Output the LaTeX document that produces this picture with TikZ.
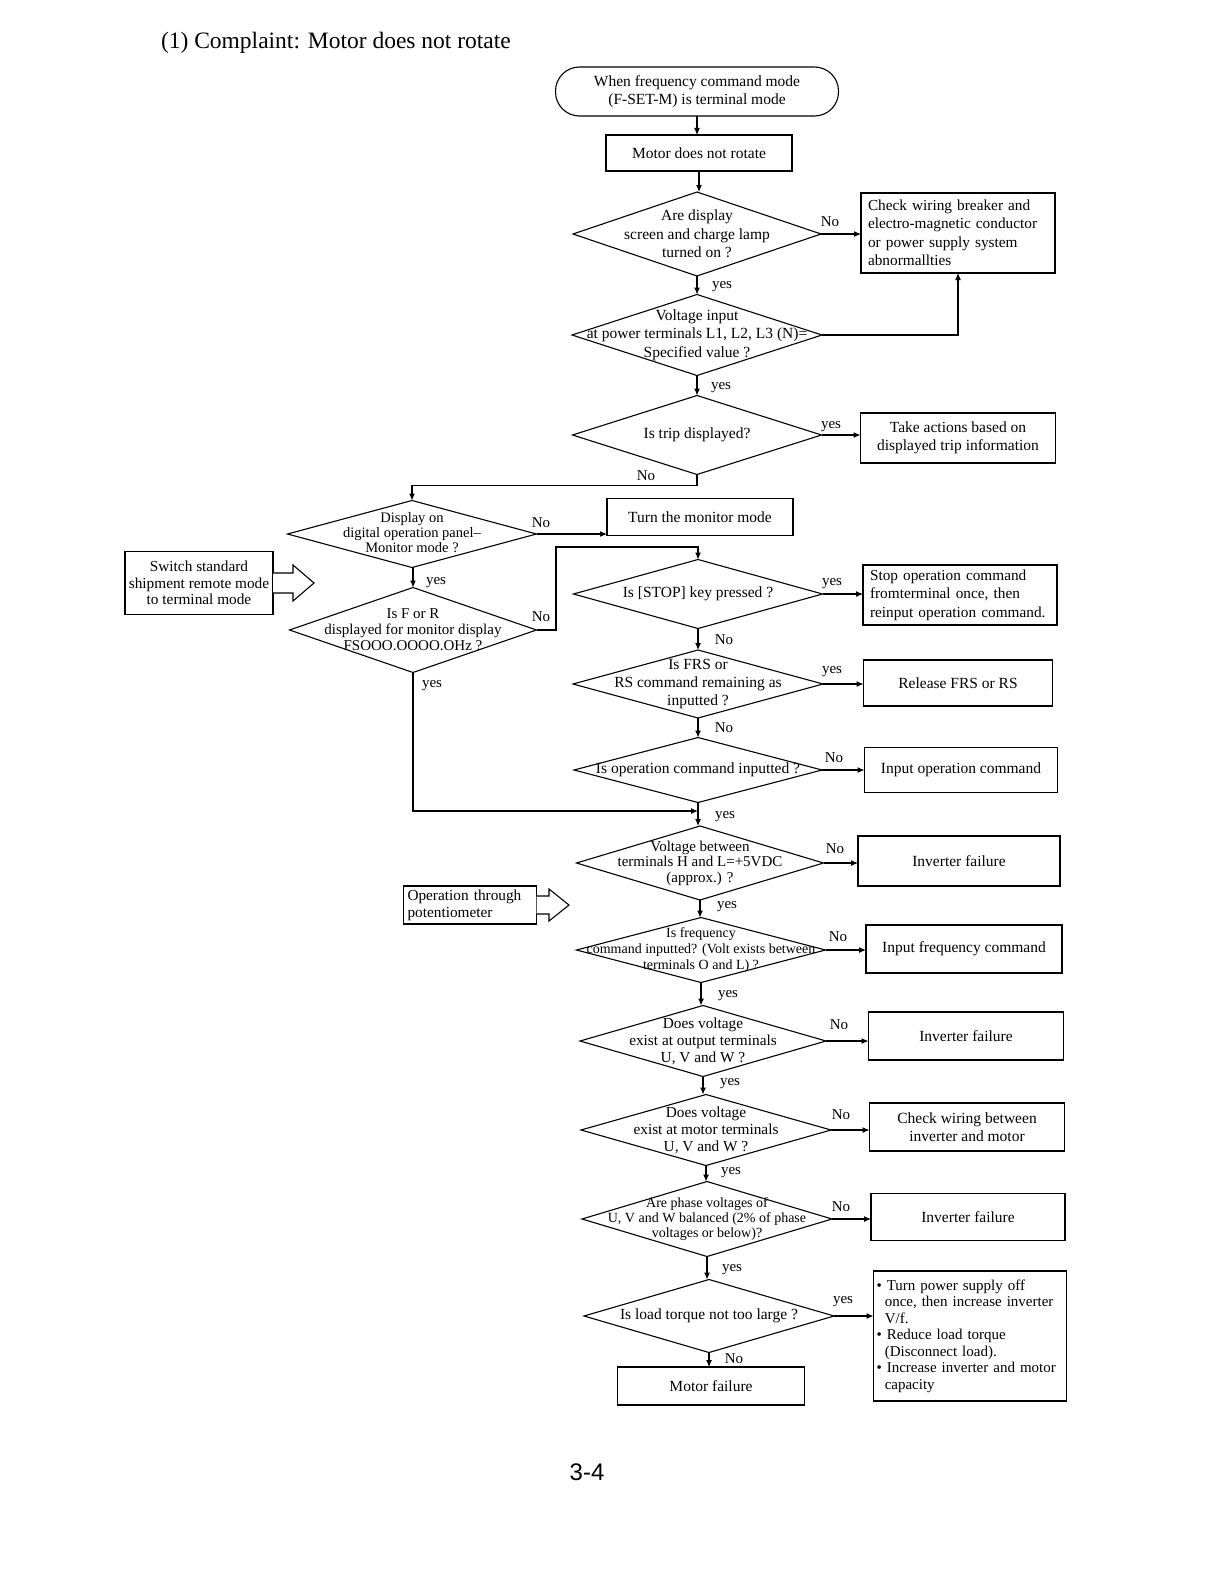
\documentclass[tikz,border=0pt]{standalone}
\usepackage{fontspec}
\setmainfont{Liberation Serif}
\newfontfamily\pagefont{Liberation Sans}
\usetikzlibrary{shapes.geometric,arrows.meta,calc}
\newcommand\myfs[2]{\fontsize{#1}{#2}\selectfont}
\begin{document}
\begin{tikzpicture}[x=1pt,y=-1pt,
  every node/.style={inner sep=0pt, outer sep=0pt},
  flow/.style={line width=1.1pt, -{Latex[length=7pt,width=6pt]}},
  plain/.style={line width=1.1pt},
  box/.style={draw, line width=1.1pt, rectangle, align=center, font=\myfs{15.5}{18}},
  lbox/.style={draw, line width=1.1pt, rectangle, align=left, font=\myfs{15.3}{18.5}, inner xsep=7pt},
  dia/.style={draw, line width=1.1pt, diamond, inner sep=0pt},
  txt/.style={align=center, font=\myfs{15.5}{18.5}},
  stxt/.style={align=center, font=\myfs{14}{15.5}},
  lab/.style={font=\myfs{15}{16}},
  hollow/.style={draw, line width=1.1pt, fill=white}
]
\useasboundingbox (0,0) rectangle (1224,1584);

% title
\node[font=\myfs{23.5}{26}, anchor=west] (title) at (161,43) {(1) Complaint: Motor does not rotate};

% main column, upper part
\node[draw, line width=1.1pt, rounded corners=24pt, minimum width=283pt, minimum height=49pt,
      align=center, font=\myfs{15.5}{18}] (start) at (697,91.5) {When frequency command mode\\(F-SET-M) is terminal mode};
\node[box, minimum width=186pt, minimum height=36pt] (motor) at (699,153) {Motor does not rotate};

\node[dia, minimum width=248pt, minimum height=84pt] (d1) at (697,234) {};
\node[txt] at (d1) {Are display\\screen and charge lamp\\turned on ?};
\node[lbox, text width=180pt, minimum height=80pt] (check) at (958,233)
  {Check wiring breaker and\\electro-magnetic conductor\\or power supply system\\abnormallties};

\node[dia, minimum width=250pt, minimum height=81pt] (d2) at (697,335) {};
\node[txt] at (d2) {Voltage input\\at power terminals L1, L2, L3 (N)=\\Specified value ?};

\node[dia, minimum width=249pt, minimum height=79pt] (d3) at (697,435) {};
\node[txt] at (d3) {Is trip displayed?};
\node[box, minimum width=195pt, minimum height=50pt] (take) at (958,438) {Take actions based on\\displayed trip information};

% left branch
\node[dia, minimum width=249pt, minimum height=67pt] (d4) at (412,534) {};
\node[stxt, font=\myfs{14.5}{15}] at ($(d4)+(0,-1)$) {Display on\\digital operation panel--\\Monitor mode ?};
\node[box, minimum width=186pt, minimum height=37pt] (turn) at (700,517) {Turn the monitor mode};

\node[box, font=\myfs{15.3}{16.5}, minimum width=148pt, minimum height=63pt] (switch) at (199,583)
  {Switch standard\\shipment remote mode\\to terminal mode};
\draw[hollow] (switch.east |- 0,573) -- (293,573) -- (293,565) -- (314,583) -- (293,601) -- (293,593) -- (switch.east |- 0,593);

\node[dia, minimum width=247pt, minimum height=85pt] (d5) at (413,630) {};
\node[stxt, font=\myfs{15}{16}] at (d5) {Is F or R\\displayed for monitor display\\FSOOO.OOOO.OHz ?};

% STOP / FRS / operation
\node[dia, minimum width=249pt, minimum height=69pt] (stop) at (698,594) {};
\node[txt] at (stop) {Is [STOP] key pressed ?};
\node[lbox, text width=180pt, minimum height=60pt] (stopbox) at (960,595)
  {Stop operation command\\fromterminal once, then\\reinput operation command.};

\node[dia, minimum width=250pt, minimum height=68pt] (frs) at (698,684) {};
\node[txt, font=\myfs{15.5}{18}] at (frs) {Is FRS or\\RS command remaining as\\inputted ?};
\node[box, minimum width=189pt, minimum height=46pt] (release) at (958,683) {Release FRS or RS};

\node[dia, minimum width=248pt, minimum height=65pt] (isop) at (698,770) {};
\node[txt] at (isop) {Is operation command inputted ?};
\node[box, minimum width=193pt, minimum height=45pt] (inputop) at (961,770) {Input operation command};

\coordinate (jm) at (698,811);

% lower part
\node[dia, minimum width=247pt, minimum height=74pt] (v) at (700,863) {};
\node[stxt, font=\myfs{15}{15.5}] at (v) {Voltage between\\terminals H and L=+5VDC\\(approx.) ?};
\node[box, minimum width=202pt, minimum height=50pt] (invf1) at (959,861) {Inverter failure};

\node[lbox, font=\myfs{15.3}{17}, inner xsep=4pt, text width=125pt, minimum height=38pt] (oppot) at (470,905)
  {Operation through\\potentiometer};
\draw[hollow] (oppot.east |- 0,896) -- (549,896) -- (549,889) -- (569,905) -- (549,921) -- (549,914) -- (oppot.east |- 0,914);

\node[dia, minimum width=249pt, minimum height=65pt] (f) at (701,950) {};
\node[stxt, font=\myfs{14}{16}] at (f) {Is frequency\\command inputted? (Volt exists between\\terminals O and L) ?};
\node[box, minimum width=196pt, minimum height=48pt] (infreq) at (964,949) {Input frequency command};

\node[dia, minimum width=246pt, minimum height=71pt] (o) at (703,1041) {};
\node[txt, font=\myfs{15.3}{17}] at (o) {Does voltage\\exist at output terminals\\U, V and W ?};
\node[box, minimum width=195pt, minimum height=48pt] (invf2) at (966,1036) {Inverter failure};

\node[dia, minimum width=250pt, minimum height=71pt] (m) at (706,1130) {};
\node[txt, font=\myfs{15.3}{17}] at (m) {Does voltage\\exist at motor terminals\\U, V and W ?};
\node[box, minimum width=195pt, minimum height=48pt] (checkw) at (967,1127) {Check wiring between\\inverter and motor};

\node[dia, minimum width=250pt, minimum height=75pt] (p) at (707,1219) {};
\node[stxt, font=\myfs{14}{15}] at (p) {Are phase voltages of\\U, V and W balanced (2\% of phase\\voltages or below)?};
\node[box, minimum width=194pt, minimum height=47pt] (invf3) at (968,1217) {Inverter failure};

\node[dia, minimum width=250pt, minimum height=73pt] (l) at (709,1316) {};
\node[txt] at (l) {Is load torque not too large ?};
\node[draw, line width=1.1pt, align=left, font=\myfs{15}{16.5}, inner xsep=3pt,
      text width=187pt, minimum height=130pt] (bullet) at (970,1336)
  {• Turn power supply off\\\hspace*{0.55em}once, then increase inverter\\\hspace*{0.55em}V/f.\\• Reduce load torque\\\hspace*{0.55em}(Disconnect load).\\• Increase inverter and motor\\\hspace*{0.55em}capacity};
\node[box, minimum width=187pt, minimum height=38pt] (motorf) at (711,1386) {Motor failure};

% page number
\node[font=\pagefont\myfs{24}{28}] (page) at (587,1472) {3-4};

% connectors
\draw[flow] (start.south) -- (start.south |- motor.north);
\draw[flow] (motor.south) -- (motor.south |- d1.north);
\draw[flow] (d1.east) -- (d1.east -| check.west);
\node[lab] at (830,222) {No};
\draw[flow] (d1.south) -- (d2.north);
\node[lab] at (722,287) {yes};
\draw[flow] (d2.east) -| (check.south);
\draw[flow] (d2.south) -- (d3.north);
\node[lab] at (721,388) {yes};
\draw[flow] (d3.east) -- (d3.east -| take.west);
\node[lab] at (831,427) {yes};
\draw[flow] (d3.south) -- ++(0,11) -| (d4.north);
\node[lab] at (646,476) {No};
\draw[flow] (d4.east) -- (d4.east -| turn.west);
\node[lab] at (541,523) {No};
\draw[flow] (d4.south) -- (d5.north |- d4.south) -- (d5.north);
\node[lab] at (436,583) {yes};
\coordinate (j1) at (556,547);
\draw[flow] (d5.east) -| (j1) -| (stop.north);
\node[lab] at (541,617) {No};
\draw[flow] (stop.east) -- (stop.east -| stopbox.west);
\node[lab] at (832,584) {yes};
\draw[flow] (stop.south) -- (frs.north);
\node[lab] at (724,640) {No};
\draw[flow] (frs.east) -- (frs.east -| release.west);
\node[lab] at (832,672) {yes};
\draw[flow] (frs.south) -- (isop.north);
\node[lab] at (724,728) {No};
\draw[flow] (isop.east) -- (isop.east -| inputop.west);
\node[lab] at (834,758) {No};
\draw[flow] (d5.south) |- (jm);
\node[lab] at (432,686) {yes};
\draw[flow] (isop.south) -- (isop.south |- v.north);
\node[lab] at (725,817) {yes};
\draw[flow] (v.east) -- (v.east -| invf1.west);
\node[lab] at (835,849) {No};
\draw[flow] (v.south) -- (v.south |- f.north);
\node[lab] at (727,907) {yes};
\draw[flow] (f.east) -- (f.east -| infreq.west);
\node[lab] at (838,937) {No};
\draw[flow] (f.south) -- (f.south |- o.north);
\node[lab] at (728,996) {yes};
\draw[flow] (o.east) -- (o.east -| invf2.west);
\node[lab] at (839,1025) {No};
\draw[flow] (o.south) -- (o.south |- m.north);
\node[lab] at (730,1084) {yes};
\draw[flow] (m.east) -- (m.east -| checkw.west);
\node[lab] at (841,1115) {No};
\draw[flow] (m.south) -- (m.south |- p.north);
\node[lab] at (731,1173) {yes};
\draw[flow] (p.east) -- (p.east -| invf3.west);
\node[lab] at (841,1207) {No};
\draw[flow] (p.south) -- (p.south |- l.north);
\node[lab] at (732,1270) {yes};
\draw[flow] (l.east) -- (l.east -| bullet.west);
\node[lab] at (843,1302) {yes};
\draw[flow] (l.south) -- (l.south |- motorf.north);
\node[lab] at (734,1359) {No};
\end{tikzpicture}
\end{document}
